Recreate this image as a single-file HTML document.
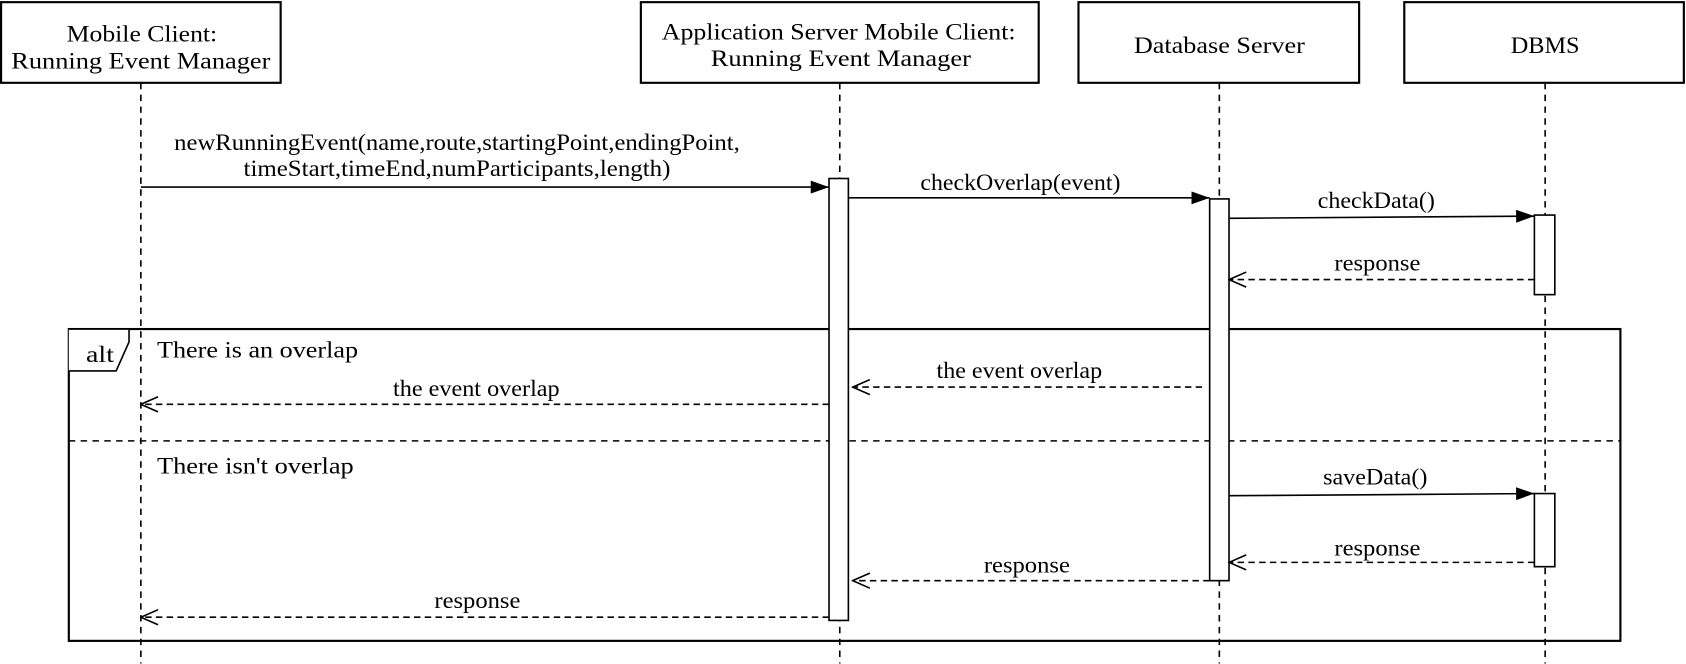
<!DOCTYPE html>
<html><head><style>html,body{margin:0;padding:0;background:#fff}svg{display:block}text{font-family:"Liberation Serif",serif;font-size:22px;fill:#000}</style></head>
<body>
<svg width="1686" height="664" viewBox="0 0 1568 617.5" xmlns="http://www.w3.org/2000/svg">
<defs>
<marker id="f" markerWidth="18" markerHeight="12" refX="17" refY="6" orient="auto" markerUnits="userSpaceOnUse"><path d="M0,0 L17,6 L0,12 Z" fill="#000"/></marker>
<marker id="o" markerWidth="18" markerHeight="16" refX="17" refY="8" orient="auto" markerUnits="userSpaceOnUse"><path d="M1,1 L17,8 L1,15" fill="none" stroke="#000" stroke-width="1.5"/></marker>
</defs>
<g fill="#fff" stroke="#000" stroke-width="2">
<rect x="1" y="2" width="260" height="75"/>
<rect x="596" y="2" width="370" height="75"/>
<rect x="1003" y="2" width="261" height="75"/>
<rect x="1306" y="2" width="260" height="75"/>
</g>
<g stroke="#000" stroke-width="1.5" stroke-dasharray="6,5">
<line x1="131" y1="77" x2="131" y2="617"/>
<line x1="781" y1="77" x2="781" y2="617"/>
<line x1="1134" y1="77" x2="1134" y2="617"/>
<line x1="1437" y1="77" x2="1437" y2="617"/>
</g>
<g text-anchor="middle" dominant-baseline="central">
<text x="132" y="32" textLength="140" lengthAdjust="spacingAndGlyphs">Mobile Client:</text><text x="131" y="57" textLength="241" lengthAdjust="spacingAndGlyphs">Running Event Manager</text>
<text x="780" y="30" textLength="329" lengthAdjust="spacingAndGlyphs">Application Server Mobile Client:</text><text x="782" y="55" textLength="242" lengthAdjust="spacingAndGlyphs">Running Event Manager</text>
<text x="1134" y="43" textLength="159" lengthAdjust="spacingAndGlyphs">Database Server</text>
<text x="1437" y="43" textLength="64" lengthAdjust="spacingAndGlyphs">DBMS</text>
</g>
<rect x="64" y="306" width="1443" height="290" fill="none" stroke="#000" stroke-width="2"/>
<path d="M64,306 L120,306 L120,318 L108,345 L64,345" fill="#fff" stroke="#000" stroke-width="1.5"/>
<line x1="64" y1="410" x2="1507" y2="410" stroke="#000" stroke-width="1.5" stroke-dasharray="6,5"/>
<g dominant-baseline="central">
<text x="80" y="330" textLength="26" lengthAdjust="spacingAndGlyphs">alt</text>
<text x="146" y="326" textLength="187" lengthAdjust="spacingAndGlyphs">There is an overlap</text>
<text x="146" y="434" textLength="183" lengthAdjust="spacingAndGlyphs">There isn't overlap</text>
</g>
<g fill="#fff" stroke="#000" stroke-width="1.5">
<rect x="771" y="166" width="18" height="411"/>
<rect x="1125" y="185" width="18" height="355"/>
<rect x="1427" y="200" width="19" height="74"/>
<rect x="1427" y="459" width="19" height="68"/>
</g>
<g stroke="#000" stroke-width="1.5" fill="none">
<line x1="131" y1="174" x2="771" y2="174" marker-end="url(#f)"/>
<line x1="789" y1="184" x2="1125" y2="184" marker-end="url(#f)"/>
<line x1="1143" y1="203" x2="1427" y2="201" marker-end="url(#f)"/>
<line x1="1143" y1="461" x2="1427" y2="459" marker-end="url(#f)"/>
<g stroke-dasharray="6,4">
<line x1="1427" y1="260" x2="1143" y2="260" marker-end="url(#o)"/>
<line x1="1118" y1="360" x2="793" y2="360" marker-end="url(#o)"/>
<line x1="771" y1="376" x2="131" y2="376" marker-end="url(#o)"/>
<line x1="1427" y1="523" x2="1143" y2="523" marker-end="url(#o)"/>
<line x1="1125" y1="540" x2="793" y2="540" marker-end="url(#o)"/>
<line x1="771" y1="574" x2="131" y2="574" marker-end="url(#o)"/>
</g>
</g>
<g text-anchor="middle" dominant-baseline="central">
<text x="425" y="133" textLength="526" lengthAdjust="spacingAndGlyphs">newRunningEvent(name,route,startingPoint,endingPoint,</text>
<text x="425" y="157" textLength="397" lengthAdjust="spacingAndGlyphs">timeStart,timeEnd,numParticipants,length)</text>
<text x="949" y="170" textLength="186" lengthAdjust="spacingAndGlyphs">checkOverlap(event)</text>
<text x="1280" y="187" textLength="109" lengthAdjust="spacingAndGlyphs">checkData()</text>
<text x="1281" y="245" textLength="80" lengthAdjust="spacingAndGlyphs">response</text>
<text x="948" y="345" textLength="154" lengthAdjust="spacingAndGlyphs">the event overlap</text>
<text x="443" y="362" textLength="155" lengthAdjust="spacingAndGlyphs">the event overlap</text>
<text x="1279" y="444" textLength="97" lengthAdjust="spacingAndGlyphs">saveData()</text>
<text x="1281" y="510" textLength="80" lengthAdjust="spacingAndGlyphs">response</text>
<text x="955" y="526" textLength="80" lengthAdjust="spacingAndGlyphs">response</text>
<text x="444" y="559" textLength="80" lengthAdjust="spacingAndGlyphs">response</text>
</g>
</svg>
</body></html>
